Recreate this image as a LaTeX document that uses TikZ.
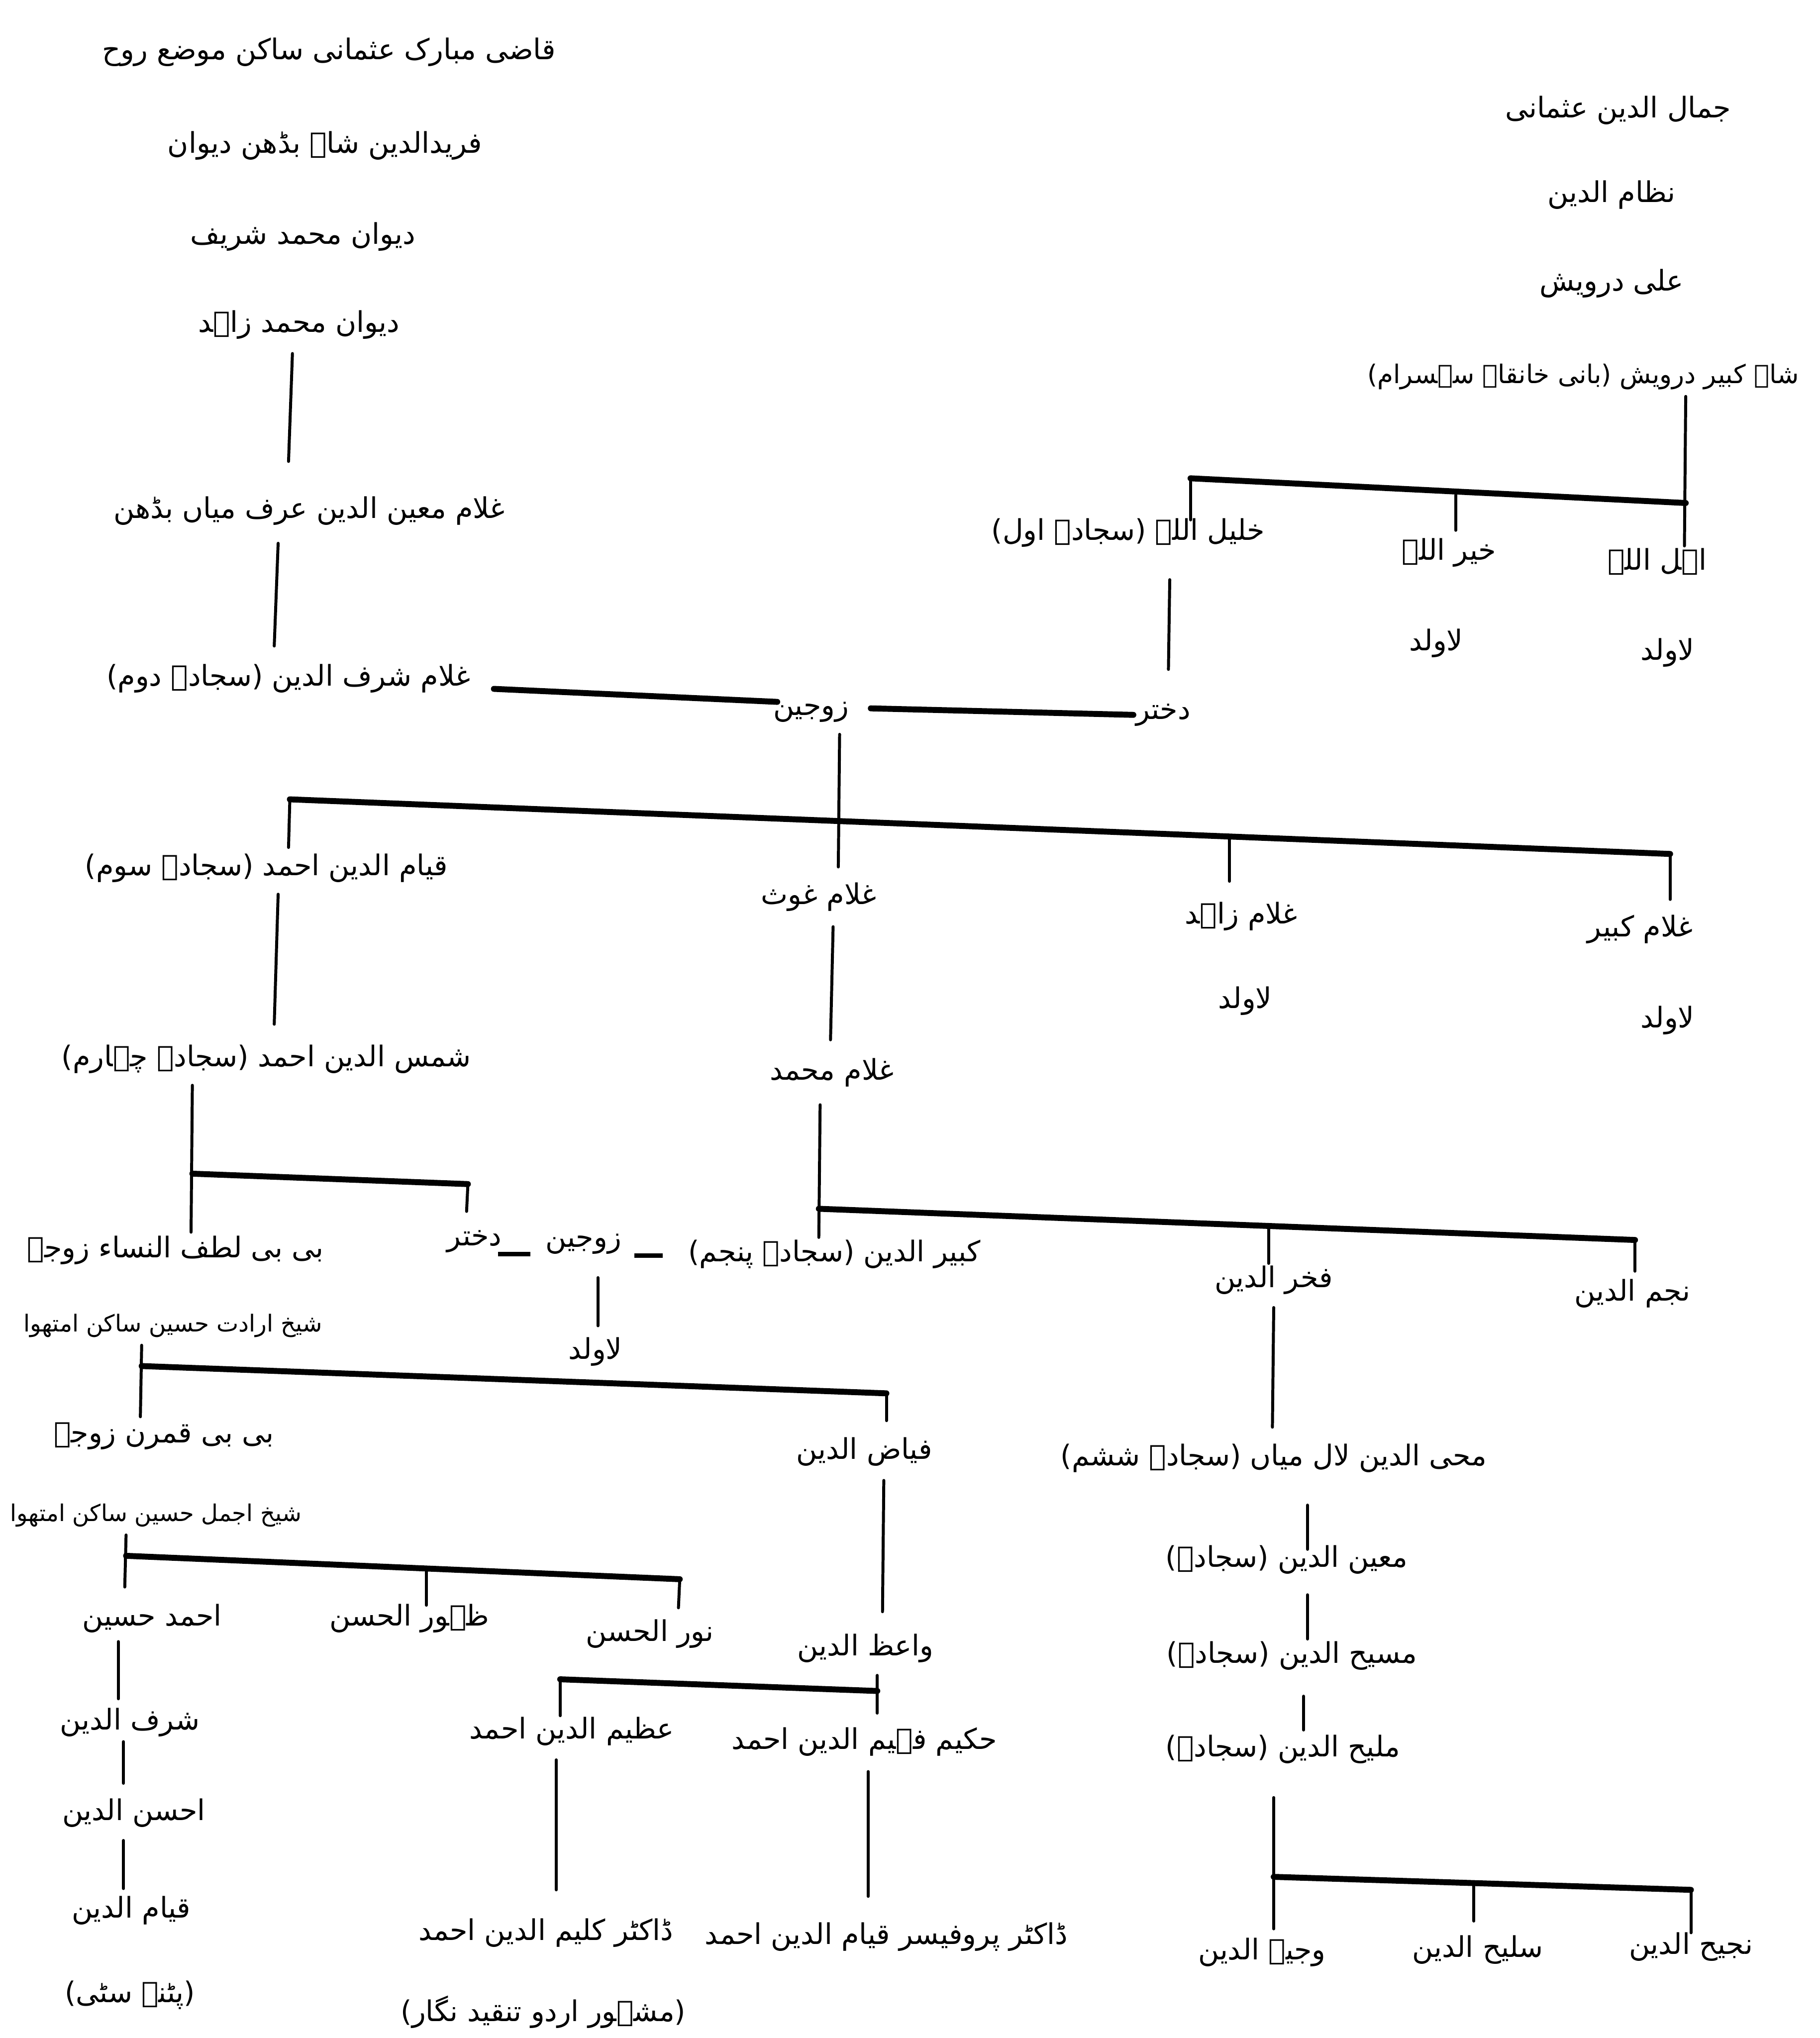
\documentclass[tikz,border=0pt]{standalone}
\usepackage{fontspec}
\usepackage{graphicx}
\newfontfamily\urdu[Script=Arabic]{DejaVu Sans}
\TeXXeTstate=1
\newlength\pxu
\setlength\pxu{0.02cm}
\newcommand{\ur}[1]{{\urdu\beginR #1\endR}}
\begin{document}
\begin{tikzpicture}[x=0.02cm,y=-0.02cm,
  lbl/.style={inner sep=0pt, font=\urdu\fontsize{12.5}{15}\selectfont},
  vline/.style={line width=1.3pt, line cap=round},
  hline/.style={line width=2.6pt, line cap=round},
  mline/.style={line width=2pt}]
\useasboundingbox[fill=white] (0,0) rectangle (1400,1568);

% ---------- left top column ----------
\node[lbl] (t1) at (253,40) {\ur{قاضی مبارک عثمانی ساکن موضع روح}};
\node[lbl] (t2) at (250,112) {\ur{فریدالدین شاہ بڈھن دیوان}};
\node[lbl] (t3) at (233,182) {\ur{دیوان محمد شریف}};
\node[lbl] (t4) at (230,250) {\ur{دیوان محمد زاہد}};
\node[lbl] (t5) at (238,393) {\ur{غلام معین الدین عرف میاں بڈھن}};
\node[lbl] (t6) at (222,522) {\ur{غلام شرف الدین (سجادہ دوم)}};
\node[lbl] (t7) at (624,548) {\ur{زوجین}};
\node[lbl] (t8) at (895,550) {\ur{دختر}};

% ---------- right top column ----------
\node[lbl] (r1) at (1245,85) {\ur{جمال الدین عثمانی}};
\node[lbl] (r2) at (1240,150) {\ur{نظام الدین}};
\node[lbl] (r3) at (1240,218) {\ur{علی درویش}};
\node[lbl] (r4) at (1218,290) {\resizebox{332\pxu}{!}{\urdu\beginR شاہ کبیر درویش (بانی خانقاہ سہسرام)\endR}};
\node[lbl] (r5) at (868,410) {\ur{خلیل اللہ (سجادہ اول)}};
\node[lbl] (r6) at (1115,425) {\ur{خیر اللہ}};
\node[lbl] (r7) at (1275,432) {\ur{اہل اللہ}};
\node[lbl] (r8) at (1105,495) {\ur{لاولد}};
\node[lbl] (r9) at (1283,502) {\ur{لاولد}};

% ---------- middle ----------
\node[lbl] (m1) at (205,668) {\ur{قیام الدین احمد (سجادہ سوم)}};
\node[lbl] (m2) at (630,690) {\ur{غلام غوث}};
\node[lbl] (m3) at (955,705) {\ur{غلام زاہد}};
\node[lbl] (m4) at (1262,715) {\ur{غلام کبیر}};
\node[lbl] (m5) at (958,770) {\ur{لاولد}};
\node[lbl] (m6) at (1283,785) {\ur{لاولد}};
\node[lbl] (m7) at (205,815) {\ur{شمس الدین احمد (سجادہ چہارم)}};
\node[lbl] (m8) at (640,825) {\ur{غلام محمد}};

\node[lbl] (n1) at (135,962) {\ur{بی بی لطف النساء زوجہ}};
\node[lbl] (n2) at (365,955) {\ur{دختر}};
\node[lbl] (n3) at (449,957) {\ur{زوجین}};
\node[lbl] (n4) at (642,965) {\ur{کبیر الدین (سجادہ پنجم)}};
\node[lbl] (n5) at (980,985) {\ur{فخر الدین}};
\node[lbl] (n6) at (1256,995) {\ur{نجم الدین}};
\node[lbl] (n7) at (133,1020) {\resizebox{230\pxu}{!}{\urdu\beginR شیخ ارادت حسین ساکن امتھوا\endR}};
\node[lbl] (n8) at (458,1040) {\ur{لاولد}};

\node[lbl] (p1) at (126,1105) {\ur{بی بی قمرن زوجہ}};
\node[lbl] (p2) at (665,1117) {\ur{فیاض الدین}};
\node[lbl] (p3) at (980,1122) {\ur{محی الدین لال میاں (سجادہ ششم)}};
\node[lbl] (p4) at (120,1166) {\resizebox{224\pxu}{!}{\urdu\beginR شیخ اجمل حسین ساکن امتھوا\endR}};
\node[lbl] (p5) at (990,1200) {\ur{معین الدین (سجادہ)}};
\node[lbl] (p6) at (117,1245) {\ur{احمد حسین}};
\node[lbl] (p7) at (315,1245) {\ur{ظہور الحسن}};
\node[lbl] (p8) at (500,1257) {\ur{نور الحسن}};
\node[lbl] (p9) at (666,1268) {\ur{واعظ الدین}};
\node[lbl] (p10) at (994,1274) {\ur{مسیح الدین (سجادہ)}};

\node[lbl] (q1) at (100,1325) {\ur{شرف الدین}};
\node[lbl] (q2) at (440,1332) {\ur{عظیم الدین احمد}};
\node[lbl] (q3) at (665,1340) {\ur{حکیم فہیم الدین احمد}};
\node[lbl] (q4) at (987,1346) {\ur{ملیح الدین (سجادہ)}};
\node[lbl] (q5) at (103,1395) {\ur{احسن الدین}};
\node[lbl] (q6) at (101,1470) {\ur{قیام الدین}};
\node[lbl] (q7) at (420,1487) {\ur{ڈاکٹر کلیم الدین احمد}};
\node[lbl] (q8) at (682,1490) {\ur{ڈاکٹر پروفیسر قیام الدین احمد}};
\node[lbl] (q9) at (971,1502) {\ur{وجیہ الدین}};
\node[lbl] (q10) at (1137,1500) {\ur{سلیح الدین}};
\node[lbl] (q11) at (1301,1498) {\ur{نجیح الدین}};
\node[lbl] (q12) at (100,1535) {\ur{(پٹنہ سٹی)}};
\node[lbl] (q13) at (418,1548) {\ur{(مشہور اردو تنقید نگار)}};

% ---------- junction coordinates ----------
\coordinate (a1) at (225,272); \coordinate (a2) at (222,355);
\coordinate (b1) at (214,418); \coordinate (b2) at (211,497);
\coordinate (c1) at (380,530); \coordinate (c2) at (598,540);
\coordinate (d1) at (670,545); \coordinate (d2) at (872,550);
\coordinate (e1) at (900,446); \coordinate (e2) at (899,515);
\coordinate (f1) at (1297,305); \coordinate (f2) at (1297,387); \coordinate (f3) at (1296,420);
\coordinate (g1) at (916,368); \coordinate (g2) at (916,400);
\coordinate (h1) at (1120,381); \coordinate (h2) at (1120,408);
\coordinate (i1) at (646,565); \coordinate (i2) at (645,667);
\coordinate (j1) at (223,615); \coordinate (j2) at (1285,657);
\coordinate (j3) at (222,652); \coordinate (j4) at (946,644); \coordinate (j5) at (946,678);
\coordinate (j6) at (1285,692);
\coordinate (k1) at (214,688); \coordinate (k2) at (211,788);
\coordinate (l1) at (641,713); \coordinate (l2) at (639,800);
\coordinate (o1) at (148,835); \coordinate (o2) at (147,948);
\coordinate (o3) at (148,903); \coordinate (o4) at (360,911); \coordinate (o5) at (359,932);
\coordinate (s1) at (631,850); \coordinate (s2) at (630,952);
\coordinate (s3) at (630,930); \coordinate (s4) at (1258,954);
\coordinate (s5) at (976,943); \coordinate (s6) at (976,972); \coordinate (s7) at (1258,978);
\coordinate (u1) at (383,965); \coordinate (u2) at (408,965);
\coordinate (u3) at (488,966); \coordinate (u4) at (510,966);
\coordinate (v1) at (460,983); \coordinate (v2) at (460,1020);
\coordinate (w1) at (109,1035); \coordinate (w2) at (108,1090);
\coordinate (w3) at (109,1051); \coordinate (w4) at (682,1072); \coordinate (w5) at (682,1093);
\coordinate (x1) at (980,1006); \coordinate (x2) at (979,1098);
\coordinate (y1) at (97,1181); \coordinate (y2) at (96,1221);
\coordinate (y3) at (97,1197); \coordinate (y4) at (523,1215);
\coordinate (y5) at (328,1207); \coordinate (y6) at (328,1235);
\coordinate (y7) at (522,1237);
\coordinate (z1) at (680,1139); \coordinate (z2) at (679,1240);
\coordinate (aa1) at (1006,1158); \coordinate (aa2) at (1006,1192);
\coordinate (ab1) at (1006,1227); \coordinate (ab2) at (1006,1261);
\coordinate (ac1) at (91,1263); \coordinate (ac2) at (91,1307);
\coordinate (ad1) at (675,1289); \coordinate (ad2) at (675,1318);
\coordinate (ad3) at (431,1292); \coordinate (ad4) at (675,1301); \coordinate (ad5) at (431,1320);
\coordinate (ae1) at (1003,1305); \coordinate (ae2) at (1003,1331);
\coordinate (af1) at (95,1340); \coordinate (af2) at (95,1372);
\coordinate (ag1) at (95,1416); \coordinate (ag2) at (95,1453);
\coordinate (ah1) at (428,1354); \coordinate (ah2) at (428,1454);
\coordinate (ai1) at (668,1363); \coordinate (ai2) at (668,1459);
\coordinate (aj1) at (980,1383); \coordinate (aj2) at (980,1484);
\coordinate (aj3) at (980,1444); \coordinate (aj4) at (1301,1454);
\coordinate (aj5) at (1134,1449); \coordinate (aj6) at (1134,1478); \coordinate (aj7) at (1301,1487);

% ---------- connectors ----------
\draw[vline] (a1) -- (a2);
\draw[vline] (b1) -- (b2);
\draw[hline] (c1) -- (c2);
\draw[hline] (d1) -- (d2);
\draw[vline] (e1) -- (e2);
\draw[vline] (f1) -- (f3);
\draw[hline] (g1) -- (f2);
\draw[vline] (g1) -- (g2);
\draw[vline] (h1) -- (h2);
\draw[vline] (i1) -- (i2);
\draw[hline] (j1) -- (j2);
\draw[vline] (j1) -- (j3);
\draw[vline] (j4) -- (j5);
\draw[vline] (j2) -- (j6);
\draw[vline] (k1) -- (k2);
\draw[vline] (l1) -- (l2);
\draw[vline] (o1) -- (o2);
\draw[hline] (o3) -- (o4);
\draw[vline] (o4) -- (o5);
\draw[vline] (s1) -- (s2);
\draw[hline] (s3) -- (s4);
\draw[vline] (s5) -- (s6);
\draw[vline] (s4) -- (s7);
\draw[mline] (u1) -- (u2);
\draw[mline] (u3) -- (u4);
\draw[vline] (v1) -- (v2);
\draw[vline] (w1) -- (w2);
\draw[hline] (w3) -- (w4);
\draw[vline] (w4) -- (w5);
\draw[vline] (x1) -- (x2);
\draw[vline] (y1) -- (y2);
\draw[hline] (y3) -- (y4);
\draw[vline] (y5) -- (y6);
\draw[vline] (y4) -- (y7);
\draw[vline] (z1) -- (z2);
\draw[vline] (aa1) -- (aa2);
\draw[vline] (ab1) -- (ab2);
\draw[vline] (ac1) -- (ac2);
\draw[vline] (ad1) -- (ad2);
\draw[hline] (ad3) -- (ad4);
\draw[vline] (ad3) -- (ad5);
\draw[vline] (ae1) -- (ae2);
\draw[vline] (af1) -- (af2);
\draw[vline] (ag1) -- (ag2);
\draw[vline] (ah1) -- (ah2);
\draw[vline] (ai1) -- (ai2);
\draw[vline] (aj1) -- (aj2);
\draw[hline] (aj3) -- (aj4);
\draw[vline] (aj5) -- (aj6);
\draw[vline] (aj4) -- (aj7);
\end{tikzpicture}
\end{document}
